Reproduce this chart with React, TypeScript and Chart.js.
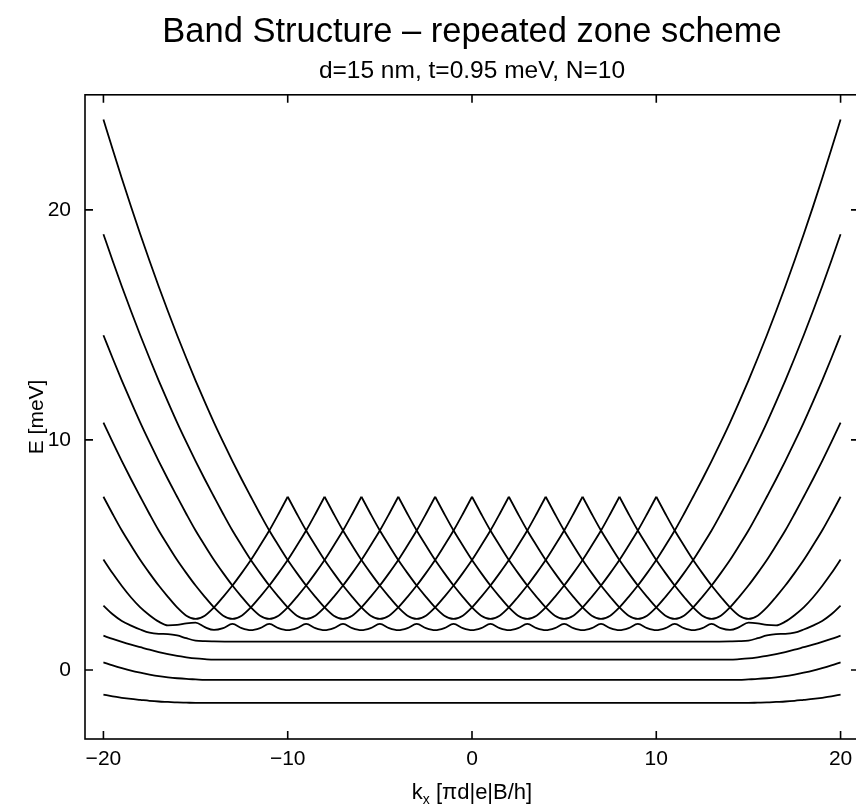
import { useEffect, useRef } from "react";
import { Chart, registerables } from "chart.js";

Chart.register(...registerables);

const FONT = '"Liberation Sans", Arial, Helvetica, sans-serif';

const titleText = "Band Structure – repeated zone scheme";
const subtitleText = "d=15 nm, t=0.95 meV, N=10";
const xAxisMain = "k";
const xAxisSub = "x";
const xAxisRest = " [πd|e|B/h]";
const yAxisTitle = "E [meV]";

const xTicks = [-20, -10, 0, 10, 20];
const yTicks = [0, 10, 20];
const xRange = [-21, 21];
const yRange = [-3, 25];

// Folded parabola branch: E at |k - center| = 0, 0.5, 1, ..., 13
const branchProfile = [
  2.22, 2.36, 2.72, 3.18, 3.67, 4.21, 4.78, 5.41, 6.06, 6.78, 7.53, 8.29, 9.08,
  9.9, 10.75, 11.65, 12.58, 13.55, 14.55, 15.59, 16.67, 17.79, 18.94, 20.13, 21.36,
  22.63, 23.93,
];
const branchCenters = [-15, -13, -11, -9, -7, -5, -3, -1, 1, 3, 5, 7, 9, 11, 13, 15];
const branchStart = [-20, -20, -20, -20, -20, -10, -8, -6, -4, -2, 0, 2, 4, 6, 8, 10];
const branchEnd = [-10, -8, -6, -4, -2, 0, 2, 4, 6, 8, 10, 20, 20, 20, 20, 20];

// Lower (miniband) states, [k, E]
const band1: [number, number][] = [
  [-20, -1.07], [-19.5, -1.15], [-19, -1.21], [-18.5, -1.26], [-18, -1.3], [-17.5, -1.34],
  [-17, -1.37], [-16.5, -1.39], [-16, -1.41], [-15.5, -1.42], [-15, -1.43],
  [15, -1.43], [15.5, -1.42], [16, -1.41], [16.5, -1.39], [17, -1.37], [17.5, -1.34],
  [18, -1.3], [18.5, -1.26], [19, -1.21], [19.5, -1.15], [20, -1.07],
];
const band2: [number, number][] = [
  [-20, 0.33], [-19.5, 0.2], [-19, 0.08], [-18.5, -0.03], [-18, -0.12], [-17.5, -0.2],
  [-17, -0.27], [-16.5, -0.32], [-16, -0.36], [-15.5, -0.39], [-15, -0.41], [-14.5, -0.43],
  [14.5, -0.43], [15, -0.41], [15.5, -0.39], [16, -0.36], [16.5, -0.32], [17, -0.27],
  [17.5, -0.2], [18, -0.12], [18.5, -0.03], [19, 0.08], [19.5, 0.2], [20, 0.33],
];
const band3: [number, number][] = [
  [-20, 1.49], [-19.5, 1.35], [-19, 1.22], [-18.5, 1.1], [-18, 0.99], [-17.5, 0.88],
  [-17, 0.78], [-16.5, 0.69], [-16, 0.61], [-15.5, 0.55], [-15, 0.5], [-14.5, 0.47], [-14, 0.45],
  [14, 0.45], [14.5, 0.47], [15, 0.5], [15.5, 0.55], [16, 0.61], [16.5, 0.69], [17, 0.78],
  [17.5, 0.88], [18, 0.99], [18.5, 1.1], [19, 1.22], [19.5, 1.35], [20, 1.49],
];
const band4: [number, number][] = [
  [-20, 2.8], [-19.5, 2.42], [-19, 2.13], [-18.5, 1.93], [-18, 1.76], [-17.5, 1.62],
  [-17, 1.57], [-16.5, 1.56], [-16, 1.5], [-15.5, 1.38], [-15, 1.28], [-14.5, 1.25], [-14, 1.24],
  [-13, 1.23], [13, 1.23],
  [14, 1.24], [14.5, 1.25], [15, 1.28], [15.5, 1.38], [16, 1.5], [16.5, 1.56], [17, 1.57],
  [17.5, 1.62], [18, 1.76], [18.5, 1.93], [19, 2.13], [19.5, 2.42], [20, 2.8],
];
const band5: [number, number][] = [
  [-20, 4.8], [-19.5, 4.2], [-19, 3.65], [-18.5, 3.15], [-18, 2.72], [-17.5, 2.38],
  [-17, 2.1], [-16.5, 1.94], [-16, 1.96], [-15.5, 2.03], [-15, 2.06], [-14.5, 1.86],
  [-14, 1.74], [-13.5, 1.82], [-13, 2.0], [-12.5, 1.82], [-12, 1.73], [-11.5, 1.82],
  [-11, 2.0], [-10.5, 1.82], [-10, 1.73], [-9.5, 1.82], [-9, 2.0], [-8.5, 1.82],
  [-8, 1.73], [-7.5, 1.82], [-7, 2.0], [-6.5, 1.82], [-6, 1.73], [-5.5, 1.82],
  [-5, 2.0], [-4.5, 1.82], [-4, 1.73], [-3.5, 1.82], [-3, 2.0], [-2.5, 1.82],
  [-2, 1.73], [-1.5, 1.82], [-1, 2.0], [-0.5, 1.82], [0, 1.73], [0.5, 1.82],
  [1, 2.0], [1.5, 1.82], [2, 1.73], [2.5, 1.82], [3, 2.0], [3.5, 1.82],
  [4, 1.73], [4.5, 1.82], [5, 2.0], [5.5, 1.82], [6, 1.73], [6.5, 1.82],
  [7, 2.0], [7.5, 1.82], [8, 1.73], [8.5, 1.82], [9, 2.0], [9.5, 1.82],
  [10, 1.73], [10.5, 1.82], [11, 2.0], [11.5, 1.82], [12, 1.73], [12.5, 1.82],
  [13, 2.0], [13.5, 1.82], [14, 1.74], [14.5, 1.86], [15, 2.06], [15.5, 2.03],
  [16, 1.96], [16.5, 1.94], [17, 2.1], [17.5, 2.38], [18, 2.72], [18.5, 3.15],
  [19, 3.65], [19.5, 4.2], [20, 4.8],
];
const lowerBands = [band1, band2, band3, band4, band5];

const LINE_COLOR = "#000000";
const LINE_WIDTH = 1.8;

function branchPoints(i: number) {
  const pts: { x: number; y: number }[] = [];
  const c = branchCenters[i];
  for (let k = branchStart[i]; k <= branchEnd[i] + 1e-9; k += 0.5) {
    const idx = Math.round(Math.abs(k - c) * 2);
    pts.push({ x: k, y: branchProfile[idx] });
  }
  return pts;
}

const frameAndLabels = {
  id: "frameAndLabels",
  afterDatasetsDraw(chart: any) {
    const { ctx, chartArea: a, scales } = chart;
    ctx.save();
    ctx.strokeStyle = "#000";
    ctx.lineWidth = 1.6;
    ctx.strokeRect(a.left, a.top, a.right - a.left, a.bottom - a.top);
    ctx.beginPath();
    const tl = 8;
    for (const v of xTicks) {
      const px = scales.x.getPixelForValue(v);
      ctx.moveTo(px, a.bottom);
      ctx.lineTo(px, a.bottom - tl);
      ctx.moveTo(px, a.top);
      ctx.lineTo(px, a.top + tl);
    }
    for (const v of yTicks) {
      const py = scales.y.getPixelForValue(v);
      ctx.moveTo(a.left, py);
      ctx.lineTo(a.left + tl, py);
      ctx.moveTo(a.right, py);
      ctx.lineTo(a.right - tl, py);
    }
    ctx.stroke();

    // x axis title with subscript
    ctx.fillStyle = "#000";
    ctx.textBaseline = "alphabetic";
    ctx.textAlign = "left";
    const mainFont = `22px ${FONT}`;
    const subFont = `14px ${FONT}`;
    ctx.font = mainFont;
    const w1 = ctx.measureText(xAxisMain).width;
    const w3 = ctx.measureText(xAxisRest).width;
    ctx.font = subFont;
    const w2 = ctx.measureText(xAxisSub).width;
    const cx = (a.left + a.right) / 2;
    let x0 = cx - (w1 + w2 + w3) / 2;
    const base = 799;
    ctx.font = mainFont;
    ctx.fillText(xAxisMain, x0, base);
    x0 += w1;
    ctx.font = subFont;
    ctx.fillText(xAxisSub, x0, base + 5);
    x0 += w2;
    ctx.font = mainFont;
    ctx.fillText(xAxisRest, x0, base);

    // y axis title
    ctx.translate(37, (a.top + a.bottom) / 2);
    ctx.rotate(-Math.PI / 2);
    ctx.textAlign = "center";
    ctx.textBaseline = "middle";
    ctx.font = `21px ${FONT}`;
    ctx.fillText(yAxisTitle, 0, 0);
    ctx.restore();
  },
};

const minus = (v: number) => String(v).replace("-", "\u2212");

export default function App() {
  const ref = useRef<HTMLCanvasElement | null>(null);

  useEffect(() => {
    if (!ref.current) return;
    const datasets: any[] = [];
    branchCenters.forEach((_, i) => {
      datasets.push({
        data: branchPoints(i),
        borderColor: LINE_COLOR,
        borderWidth: LINE_WIDTH,
        pointRadius: 0,
        fill: false,
        cubicInterpolationMode: "monotone",
      });
    });
    lowerBands.forEach((b) => {
      datasets.push({
        data: b.map(([x, y]) => ({ x, y })),
        borderColor: LINE_COLOR,
        borderWidth: LINE_WIDTH,
        pointRadius: 0,
        fill: false,
        cubicInterpolationMode: "monotone",
      });
    });

    const chart = new Chart(ref.current, {
      type: "line",
      data: { datasets },
      options: {
        responsive: false,
        animation: false,
        events: [],
        layout: { padding: { left: 0, right: 3, top: 0, bottom: 0 } },
        plugins: {
          legend: { display: false },
          tooltip: { enabled: false },
          title: {
            display: true,
            text: titleText,
            fullSize: false,
            color: "#000",
            font: { family: FONT, size: 34.5, weight: "normal" },
            padding: { top: 12, bottom: 0 },
          },
          subtitle: {
            display: true,
            text: subtitleText,
            fullSize: false,
            color: "#000",
            font: { family: FONT, size: 24.5, weight: "normal" },
            padding: { top: 3, bottom: 9 },
          },
        },
        scales: {
          x: {
            type: "linear",
            min: xRange[0],
            max: xRange[1],
            grid: { display: false, drawTicks: false },
            border: { display: false },
            afterBuildTicks: (s: any) => {
              s.ticks = xTicks.map((v) => ({ value: v }));
            },
            afterFit: (s: any) => {
              s.height = 71;
            },
            ticks: {
              padding: 8,
              color: "#000",
              font: { family: FONT, size: 21 },
              maxRotation: 0,
              callback: (v: any) => minus(v),
            },
          },
          y: {
            type: "linear",
            min: yRange[0],
            max: yRange[1],
            grid: { display: false, drawTicks: false },
            border: { display: false },
            afterBuildTicks: (s: any) => {
              s.ticks = yTicks.map((v) => ({ value: v }));
            },
            afterFit: (s: any) => {
              s.width = 85;
            },
            ticks: {
              padding: 14,
              color: "#000",
              font: { family: FONT, size: 21 },
              callback: (v: any) => minus(v),
            },
          },
        },
      },
      plugins: [frameAndLabels],
    });
    return () => chart.destroy();
  }, []);

  return (
    <div
      style={{
        position: "fixed",
        left: 0,
        top: 0,
        width: 856,
        height: 810,
        overflow: "hidden",
        background: "#fff",
      }}
    >
      <canvas ref={ref} width={862} height={810} style={{ display: "block" }} />
    </div>
  );
}
